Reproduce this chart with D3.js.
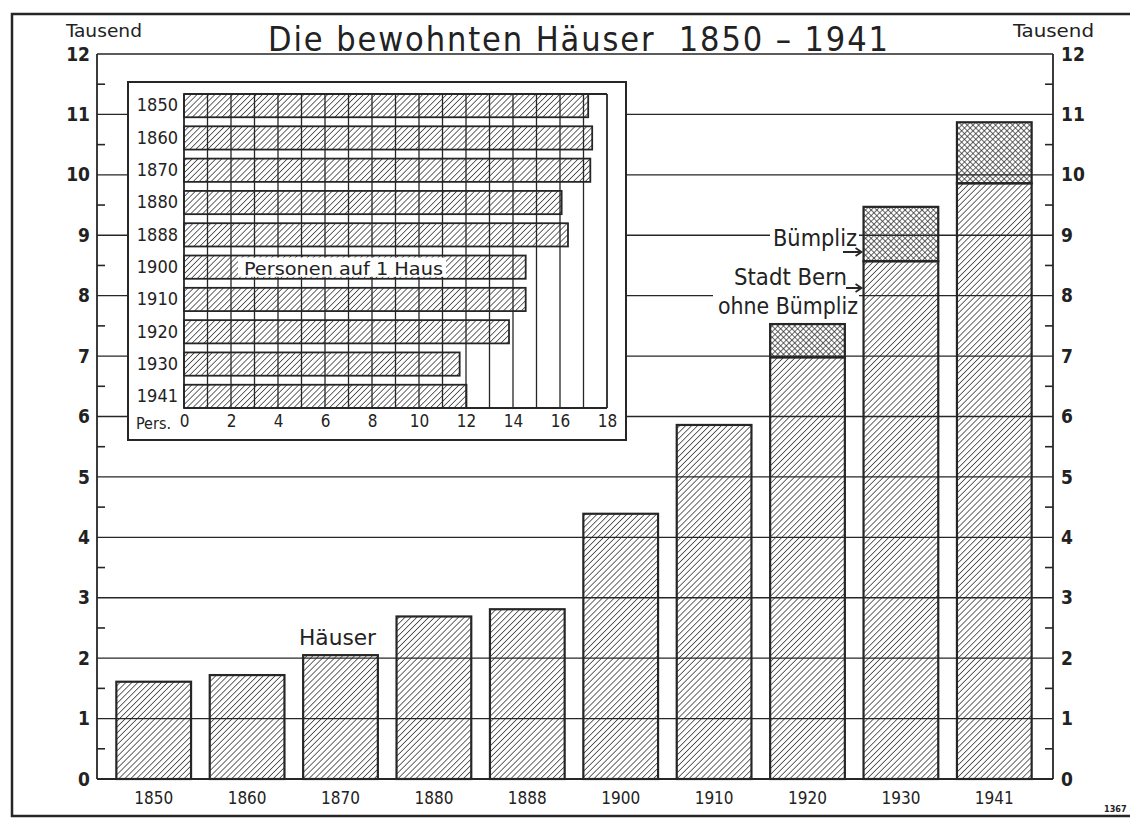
<!DOCTYPE html>
<html>
<head>
<meta charset="utf-8">
<script src="https://cdn.jsdelivr.net/npm/d3@7"></script>
<style>
  body { margin: 0; background: #fff; }
  text { font-family: "DejaVu Sans Condensed", "DejaVu Sans", sans-serif; fill: #222; }
</style>
</head>
<body>
<div id="chart"></div>
<script>
// data (thousand houses, persons per house)
const years = ["1850", "1860", "1870", "1880", "1888", "1900", "1910", "1920", "1930", "1941"];
const bernHouses = [1.61, 1.72, 2.05, 2.69, 2.81, 4.39, 5.86, 6.98, 8.57, 9.86];
const bumplizHouses = [0, 0, 0, 0, 0, 0, 0, 0.55, 0.90, 1.01];
const persPerHouse = [17.2, 17.37, 17.29, 16.07, 16.34, 14.54, 14.54, 13.83, 11.73, 12.02];
const yTicks = [0, 1, 2, 3, 4, 5, 6, 7, 8, 9, 10, 11, 12];
const persTicks = [0, 2, 4, 6, 8, 10, 12, 14, 16, 18];

const ink = "#262626";
const width = 1130, height = 819;

const svg = d3.select("#chart").append("svg")
  .attr("width", width)
  .attr("height", height);

// hatch patterns
const defs = svg.append("defs");
defs.append("pattern")
  .attr("id", "hatch")
  .attr("patternUnits", "userSpaceOnUse")
  .attr("width", 4.2).attr("height", 4.2)
  .attr("patternTransform", "rotate(45)")
  .append("line")
  .attr("x1", 0).attr("y1", 0).attr("x2", 0).attr("y2", 4.2)
  .attr("stroke", ink).attr("stroke-width", 1.4);

const cross = defs.append("pattern")
  .attr("id", "cross")
  .attr("patternUnits", "userSpaceOnUse")
  .attr("width", 4).attr("height", 4)
  .attr("patternTransform", "rotate(45)");
cross.append("line").attr("x1", 0).attr("y1", 0).attr("x2", 0).attr("y2", 4)
  .attr("stroke", ink).attr("stroke-width", 1.4);
cross.append("line").attr("x1", 0).attr("y1", 0).attr("x2", 4).attr("y2", 0)
  .attr("stroke", ink).attr("stroke-width", 1.4);

// outer frame
svg.append("rect")
  .attr("x", 12).attr("y", 14).attr("width", 1140).attr("height", 802)
  .attr("fill", "none").attr("stroke", ink).attr("stroke-width", 2.5);

// scales of the main chart
const x = d3.scaleBand()
  .domain(years)
  .range([107, 1041])
  .paddingInner(0.2)
  .paddingOuter(0.1);

const y = d3.scaleLinear()
  .domain([0, 12])
  .range([779, 54]);

const axLeft = 97, axRight = 1053;

// bars: Stadt Bern ohne Bümpliz
svg.append("g").selectAll("rect")
  .data(years)
  .join("rect")
  .attr("x", d => x(d))
  .attr("y", (d, i) => y(bernHouses[i]))
  .attr("width", x.bandwidth())
  .attr("height", (d, i) => y(0) - y(bernHouses[i]))
  .attr("fill", "url(#hatch)")
  .attr("stroke", ink).attr("stroke-width", 2.2);

// bars: Bümpliz
svg.append("g").selectAll("rect")
  .data(years.filter((d, i) => bumplizHouses[i] > 0))
  .join("rect")
  .attr("x", d => x(d))
  .attr("y", d => { const i = years.indexOf(d); return y(bernHouses[i] + bumplizHouses[i]); })
  .attr("width", x.bandwidth())
  .attr("height", d => { const i = years.indexOf(d); return y(bernHouses[i]) - y(bernHouses[i] + bumplizHouses[i]); })
  .attr("fill", "url(#cross)")
  .attr("stroke", ink).attr("stroke-width", 2.2);

// horizontal grid lines
svg.append("g").selectAll("line")
  .data(yTicks)
  .join("line")
  .attr("x1", axLeft).attr("x2", axRight)
  .attr("y1", d => y(d)).attr("y2", d => y(d))
  .attr("stroke", ink).attr("stroke-width", d => d === 0 ? 2 : 1.4);

// axis lines and half-unit ticks
svg.append("line").attr("x1", axLeft).attr("x2", axLeft).attr("y1", y(12)).attr("y2", y(0))
  .attr("stroke", ink).attr("stroke-width", 1.8);
svg.append("line").attr("x1", axRight).attr("x2", axRight).attr("y1", y(12)).attr("y2", y(0))
  .attr("stroke", ink).attr("stroke-width", 1.8);

const halfTicks = yTicks.slice(0, -1).map(d => d + 0.5);
svg.append("g").selectAll("line")
  .data(halfTicks)
  .join("line")
  .attr("x1", axLeft).attr("x2", axLeft + 8)
  .attr("y1", d => y(d)).attr("y2", d => y(d))
  .attr("stroke", ink).attr("stroke-width", 1.6);
svg.append("g").selectAll("line")
  .data(halfTicks)
  .join("line")
  .attr("x1", axRight - 8).attr("x2", axRight)
  .attr("y1", d => y(d)).attr("y2", d => y(d))
  .attr("stroke", ink).attr("stroke-width", 1.6);

// tick labels left and right
const leftAxis = svg.append("g")
  .attr("transform", "translate(" + (axLeft - 5) + ",0)")
  .call(d3.axisLeft(y).tickValues(yTicks).tickSize(0).tickPadding(2).tickFormat(d3.format("d")));
leftAxis.select(".domain").remove();
leftAxis.selectAll("text")
  .attr("font-size", 19).attr("font-weight", "bold")
  .attr("font-family", "'DejaVu Sans Condensed', 'DejaVu Sans', sans-serif")
  .attr("fill", ink);

const rightAxis = svg.append("g")
  .attr("transform", "translate(" + (axRight + 6) + ",0)")
  .call(d3.axisRight(y).tickValues(yTicks).tickSize(0).tickPadding(2).tickFormat(d3.format("d")));
rightAxis.select(".domain").remove();
rightAxis.selectAll("text")
  .attr("font-size", 19).attr("font-weight", "bold")
  .attr("font-family", "'DejaVu Sans Condensed', 'DejaVu Sans', sans-serif")
  .attr("fill", ink);

// year labels
const bottomAxis = svg.append("g")
  .attr("transform", "translate(0," + y(0) + ")")
  .call(d3.axisBottom(x).tickSize(0).tickPadding(13));
bottomAxis.select(".domain").remove();
bottomAxis.selectAll("text")
  .attr("font-size", 17)
  .attr("font-family", "'DejaVu Sans Condensed', 'DejaVu Sans', sans-serif")
  .attr("fill", ink);

// unit labels and title
svg.append("text").attr("x", 66).attr("y", 37).attr("font-size", 17)
  .attr("textLength", 76).attr("lengthAdjust", "spacingAndGlyphs").text("Tausend");
svg.append("text").attr("x", 1013).attr("y", 37).attr("font-size", 17)
  .attr("textLength", 81).attr("lengthAdjust", "spacingAndGlyphs").text("Tausend");

svg.append("text")
  .attr("x", 268).attr("y", 51)
  .attr("font-size", 34)
  .attr("textLength", 620).attr("lengthAdjust", "spacing")
  .style("white-space", "pre")
  .text("Die bewohnten Häuser  1850 – 1941");

svg.append("text").attr("x", 299).attr("y", 645).attr("font-size", 21)
  .attr("textLength", 77).attr("lengthAdjust", "spacingAndGlyphs").text("Häuser");

// annotations for the split bars
svg.append("rect").attr("x", 770).attr("y", 226).attr("width", 89).attr("height", 24).attr("fill", "#fff");
svg.append("text").attr("x", 773).attr("y", 246).attr("font-size", 23)
  .attr("textLength", 84).attr("lengthAdjust", "spacingAndGlyphs").text("Bümpliz");

svg.append("text").attr("x", 734).attr("y", 285).attr("font-size", 23)
  .attr("textLength", 113).attr("lengthAdjust", "spacingAndGlyphs").text("Stadt Bern");

svg.append("rect").attr("x", 713).attr("y", 294).attr("width", 146).attr("height", 26).attr("fill", "#fff");
svg.append("text").attr("x", 718).attr("y", 314).attr("font-size", 23)
  .attr("textLength", 140).attr("lengthAdjust", "spacingAndGlyphs").text("ohne Bümpliz");

const arrows = [[843, 252], [846, 288]];
svg.append("g").selectAll("path")
  .data(arrows)
  .join("path")
  .attr("d", d => "M" + d[0] + "," + d[1] + " L" + (x("1930") - 2) + "," + d[1] +
    " M" + (x("1930") - 8) + "," + (d[1] - 4) + " L" + (x("1930") - 2) + "," + d[1] +
    " L" + (x("1930") - 8) + "," + (d[1] + 4))
  .attr("fill", "none").attr("stroke", ink).attr("stroke-width", 1.8);

// inset: Personen auf 1 Haus
const inset = svg.append("g");
inset.append("rect")
  .attr("x", 128).attr("y", 82).attr("width", 498).attr("height", 358)
  .attr("fill", "#fff").attr("stroke", ink).attr("stroke-width", 2);

const px = d3.scaleLinear().domain([0, 18]).range([184, 607]);
const py = d3.scaleBand().domain(years).range([94, 408]).paddingInner(0.28).paddingOuter(0);

inset.append("g").selectAll("rect")
  .data(years)
  .join("rect")
  .attr("x", px(0))
  .attr("y", d => py(d))
  .attr("width", (d, i) => px(persPerHouse[i]) - px(0))
  .attr("height", py.bandwidth())
  .attr("fill", "url(#hatch)")
  .attr("stroke", ink).attr("stroke-width", 1.8);

// inset grid
inset.append("g").selectAll("line")
  .data(d3.range(0, 19))
  .join("line")
  .attr("x1", d => px(d)).attr("x2", d => px(d))
  .attr("y1", 94).attr("y2", 408)
  .attr("stroke", ink).attr("stroke-width", d => (d === 0 || d === 18) ? 1.8 : 1.3);
inset.append("line").attr("x1", px(0)).attr("x2", px(18)).attr("y1", 94).attr("y2", 94)
  .attr("stroke", ink).attr("stroke-width", 1.8);
inset.append("line").attr("x1", px(0)).attr("x2", px(18)).attr("y1", 408).attr("y2", 408)
  .attr("stroke", ink).attr("stroke-width", 1.8);

// inset labels
const insetY = inset.append("g")
  .attr("transform", "translate(" + (px(0) - 4) + ",0)")
  .call(d3.axisLeft(py).tickSize(0).tickPadding(2));
insetY.select(".domain").remove();
insetY.selectAll("text")
  .attr("font-size", 18)
  .attr("font-family", "'DejaVu Sans Condensed', 'DejaVu Sans', sans-serif")
  .attr("fill", ink);

const insetX = inset.append("g")
  .attr("transform", "translate(0,408)")
  .call(d3.axisBottom(px).tickValues(persTicks).tickSize(0).tickPadding(7));
insetX.select(".domain").remove();
insetX.selectAll("text")
  .attr("font-size", 17)
  .attr("font-family", "'DejaVu Sans Condensed', 'DejaVu Sans', sans-serif")
  .attr("fill", ink);

inset.append("text").attr("x", 136).attr("y", 429).attr("font-size", 16).text("Pers.");

inset.append("rect").attr("x", 238).attr("y", py("1900") + 2).attr("width", 208)
  .attr("height", py.bandwidth() - 4).attr("fill", "#fff");
inset.append("text").attr("x", 244).attr("y", 275).attr("font-size", 18)
  .attr("textLength", 199).attr("lengthAdjust", "spacingAndGlyphs").text("Personen auf 1 Haus");

// plate number
svg.append("text").attr("x", 1104).attr("y", 812).attr("font-size", 9)
  .attr("font-weight", "bold").text("1367");
</script>
</body>
</html>
